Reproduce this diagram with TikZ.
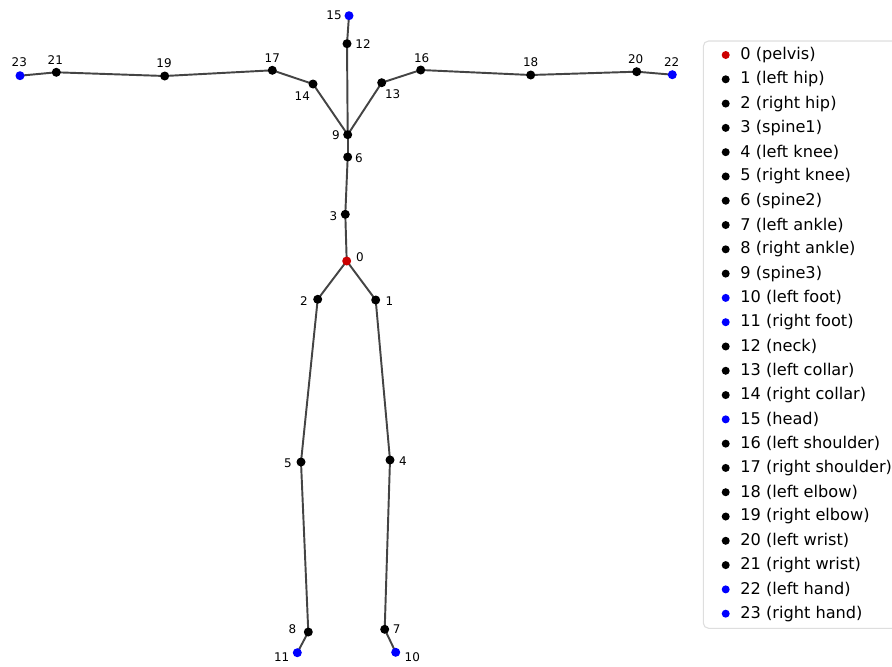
\documentclass[tikz,border=0pt]{standalone}
\usepackage{fontspec}
\setmainfont{DejaVu Sans}
\usetikzlibrary{positioning}
\definecolor{jred}{RGB}{204,0,0}
\definecolor{jblue}{RGB}{0,0,255}
\definecolor{jblack}{RGB}{0,0,0}
\definecolor{bone}{RGB}{68,68,68}
\definecolor{legframe}{RGB}{222,222,222}

\begin{document}
\begin{tikzpicture}[
    x=0.02cm, y=-0.02cm,
    joint/.style={circle, inner sep=0pt, minimum size=0.18cm},
    bonestyle/.style={draw=bone, line width=1.1pt},
    jlabel/.style={inner sep=0pt, font=\fontsize{6.8}{7}\selectfont},
    legdot/.style={circle, inner sep=0pt, minimum size=0.16cm},
    legtext/.style={inner sep=0pt, anchor=west, font=\fontsize{9.2}{11}\selectfont}
]
\useasboundingbox (0,0) rectangle (892,666);
\clip (0,0) rectangle (892,666);

% joints: number / x / y / colour / label shift
\foreach \n/\x/\y/\c/\dx/\dy in {
    0/346.7/261/jred/13.3/-3.7, 1/375.7/300/jblack/13.6/0.7,
    2/317.7/299.3/jblack/-13.7/1.4, 3/345.3/214.3/jblack/-12/1.4,
    4/390/460/jblack/13/1, 5/301/462/jblack/-13/1,
    6/347.7/157/jblack/11.3/1.3, 7/384.7/629.3/jblack/12/0,
    8/308.3/632/jblack/-16/-2.7, 9/347.7/134.7/jblack/-11.7/0.6,
    10/395.7/652.3/jblue/16.6/5, 11/297.3/652.7/jblue/-15.6/4.6,
    12/347/43.7/jblack/16/0, 13/381.7/82.7/jblack/11/11.3,
    14/313/84/jblack/-10.7/12.3, 15/349/15.7/jblue/-15/-0.7,
    16/420.7/70/jblack/1/-12.3, 17/272.3/70.3/jblack/0/-12.6,
    18/530.7/75/jblack/0/-13, 19/164.7/76/jblack/-0.7/-13.3,
    20/636.7/71.7/jblack/-1/-12.4, 21/56.3/72.3/jblack/-1/-12.3,
    22/672.3/74.7/jblue/-0.6/-12.7, 23/20/75.7/jblue/-0.7/-13.7}
{
    \coordinate (j\n) at (\x,\y);
    \node[jlabel] (l\n) at ([shift={(\dx,\dy)}]j\n) {\n};
}

% bones
\foreach \a/\b in {0/1, 0/2, 0/3, 1/4, 2/5, 3/6, 4/7, 5/8, 6/9, 7/10, 8/11,
    9/12, 9/13, 9/14, 12/15, 13/16, 14/17, 16/18, 17/19, 18/20, 19/21,
    20/22, 21/23}
    \draw[bonestyle] (j\a) -- (j\b);

\foreach \n/\c in {0/jred, 1/jblack, 2/jblack, 3/jblack, 4/jblack, 5/jblack,
    6/jblack, 7/jblack, 8/jblack, 9/jblack, 10/jblue, 11/jblue, 12/jblack,
    13/jblack, 14/jblack, 15/jblue, 16/jblack, 17/jblack, 18/jblack,
    19/jblack, 20/jblack, 21/jblack, 22/jblue, 23/jblue}
    \node[joint, fill=\c] (d\n) at (j\n) {};

% legend
\draw[legframe, line width=0.6pt, fill=white, rounded corners=3pt]
    (703.3,41) rectangle (930,628.3);
\foreach \n/\nm/\c in {0/pelvis/jred, 1/left hip/jblack, 2/right hip/jblack,
    3/spine1/jblack, 4/left knee/jblack, 5/right knee/jblack, 6/spine2/jblack,
    7/left ankle/jblack, 8/right ankle/jblack, 9/spine3/jblack,
    10/left foot/jblue, 11/right foot/jblue, 12/neck/jblack,
    13/left collar/jblack, 14/right collar/jblack, 15/head/jblue,
    16/left shoulder/jblack, 17/right shoulder/jblack, 18/left elbow/jblack,
    19/right elbow/jblack, 20/left wrist/jblack, 21/right wrist/jblack,
    22/left hand/jblue, 23/right hand/jblue}
{
    \pgfmathsetmacro\yy{55+24.29*\n}
    \node[legdot, fill=\c] (m\n) at (725.7,\yy) {};
    \node[legtext, right=0.2cm of m\n] (t\n) {\n\ (\nm)};
}
\end{tikzpicture}
\end{document}
